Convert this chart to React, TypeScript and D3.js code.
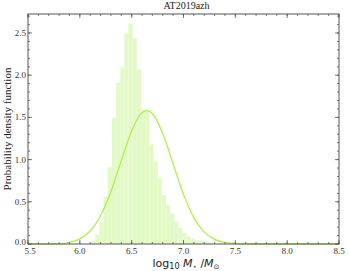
import React from 'react';
import * as d3 from 'd3';

const title = 'AT2019azh';

// histogram: left edge of first bin, bin width and density per bin
const binStart = 6.11;
const binWidth = 0.04;
const binDensity = [
  0.035, 0.11, 0.25, 0.56, 0.91, 1.49, 1.91, 2.09, 2.49, 2.61,
  2.44, 2.07, 1.59, 1.59, 1.18, 0.98, 0.78, 0.58, 0.46, 0.36,
  0.27, 0.19, 0.13, 0.09, 0.06, 0.045, 0.035, 0.03, 0.02
];

// fitted curve
const curveX = [
  5.5, 5.6, 5.7, 5.8, 5.9, 6.0, 6.1, 6.2, 6.3, 6.4, 6.5, 6.6, 6.65, 6.7,
  6.8, 6.9, 7.0, 7.1, 7.2, 7.3, 7.4, 7.5, 7.6, 7.7, 7.8, 8.0, 8.5
];
const curveY = [
  0, 0, 0, 0.001, 0.02, 0.061, 0.154, 0.334, 0.621, 0.987, 1.34, 1.555, 1.58, 1.543,
  1.309, 0.949, 0.588, 0.312, 0.141, 0.055, 0.018, 0.005, 0.001, 0, 0, 0, 0
];

const xMajor = [5.5, 6.0, 6.5, 7.0, 7.5, 8.0, 8.5];
const yMajor = [0.0, 0.5, 1.0, 1.5, 2.0, 2.5];

const W = 349, H = 271;
const left = 28, right = 339, top = 14, bottom = 244;

export default function App() {
  const x = d3.scaleLinear().domain([5.5, 8.5]).range([left, right]);
  const y = d3.scaleLinear().domain([0, 2.725]).range([bottom, top]);

  const line = d3.line<number>()
    .x((d, i) => x(curveX[i]))
    .y(d => y(d))
    .curve(d3.curveMonotoneX);

  const xMinor = d3.range(5.5, 8.5001, 0.1);
  const yMinor = d3.range(0, 2.72, 0.1);
  const serif = '"Liberation Serif", "Times New Roman", serif';
  const frame = '#555';

  return (
    <svg width={W} height={H} style={{ position: 'absolute', left: 0, top: 0, background: '#fff' }}>
      <text x={(left + right) / 2 + 3} y={9} textAnchor="middle" fontFamily={serif} fontSize={10} fill="#222">{title}</text>

      <g>
        {binDensity.map((d, i) => {
          const x0 = binStart + i * binWidth;
          return (
            <rect key={i} x={x(x0)} width={x(x0 + binWidth) - x(x0)} y={y(d)} height={bottom - y(d)}
              fill="#e3f9c6" stroke="#ecfbd9" strokeWidth={0.3} />
          );
        })}
      </g>

      <path d={line(curveY) || ''} fill="none" stroke="#b4ee4c" strokeWidth={1.3} />

      <g stroke={frame} strokeWidth={0.8}>
        {xMinor.map((v, i) => (
          <g key={'xm' + i}>
            <line x1={x(v)} x2={x(v)} y1={bottom} y2={bottom - 2} />
            <line x1={x(v)} x2={x(v)} y1={top} y2={top + 2} />
          </g>
        ))}
        {xMajor.map((v, i) => (
          <g key={'xM' + i}>
            <line x1={x(v)} x2={x(v)} y1={bottom} y2={bottom - 4} />
            <line x1={x(v)} x2={x(v)} y1={top} y2={top + 4} />
          </g>
        ))}
        {yMinor.map((v, i) => (
          <g key={'ym' + i}>
            <line x1={left} x2={left + 2} y1={y(v)} y2={y(v)} />
            <line x1={right} x2={right - 2} y1={y(v)} y2={y(v)} />
          </g>
        ))}
        {yMajor.map((v, i) => (
          <g key={'yM' + i}>
            <line x1={left} x2={left + 4} y1={y(v)} y2={y(v)} />
            <line x1={right} x2={right - 4} y1={y(v)} y2={y(v)} />
          </g>
        ))}
        <rect x={left} y={top} width={right - left} height={bottom - top} fill="none" strokeWidth={1} />
      </g>

      <g fontFamily={serif} fontSize={9} fill="#333">
        {xMajor.map((v, i) => (
          <text key={'xl' + i} x={x(v) + (i === 0 ? 2 : 0)} y={bottom + 10} textAnchor="middle">{v.toFixed(1)}</text>
        ))}
        {yMajor.map((v, i) => (
          <text key={'yl' + i} x={left - 2} y={y(v) + (i === 0 ? 1 : 3)} textAnchor="end">{v.toFixed(1)}</text>
        ))}
      </g>

      <text transform={`translate(11,${(top + bottom) / 2}) rotate(-90)`} textAnchor="middle"
        fontFamily={serif} fontSize={11} fill="#222">Probability density function</text>

      <text x={186} y={267} textAnchor="middle" fontFamily='"DejaVu Sans", sans-serif' fontSize={11} fill="#222">
        log<tspan fontSize={8} dy={2}>10</tspan>
        <tspan dy={-2} fontStyle="italic"> M</tspan>
        <tspan fontSize={7} dy={2}>⋆</tspan>
        <tspan dy={-2}> /</tspan>
        <tspan fontStyle="italic">M</tspan>
        <tspan fontSize={7} dy={2}>⊙</tspan>
      </text>
    </svg>
  );
}
